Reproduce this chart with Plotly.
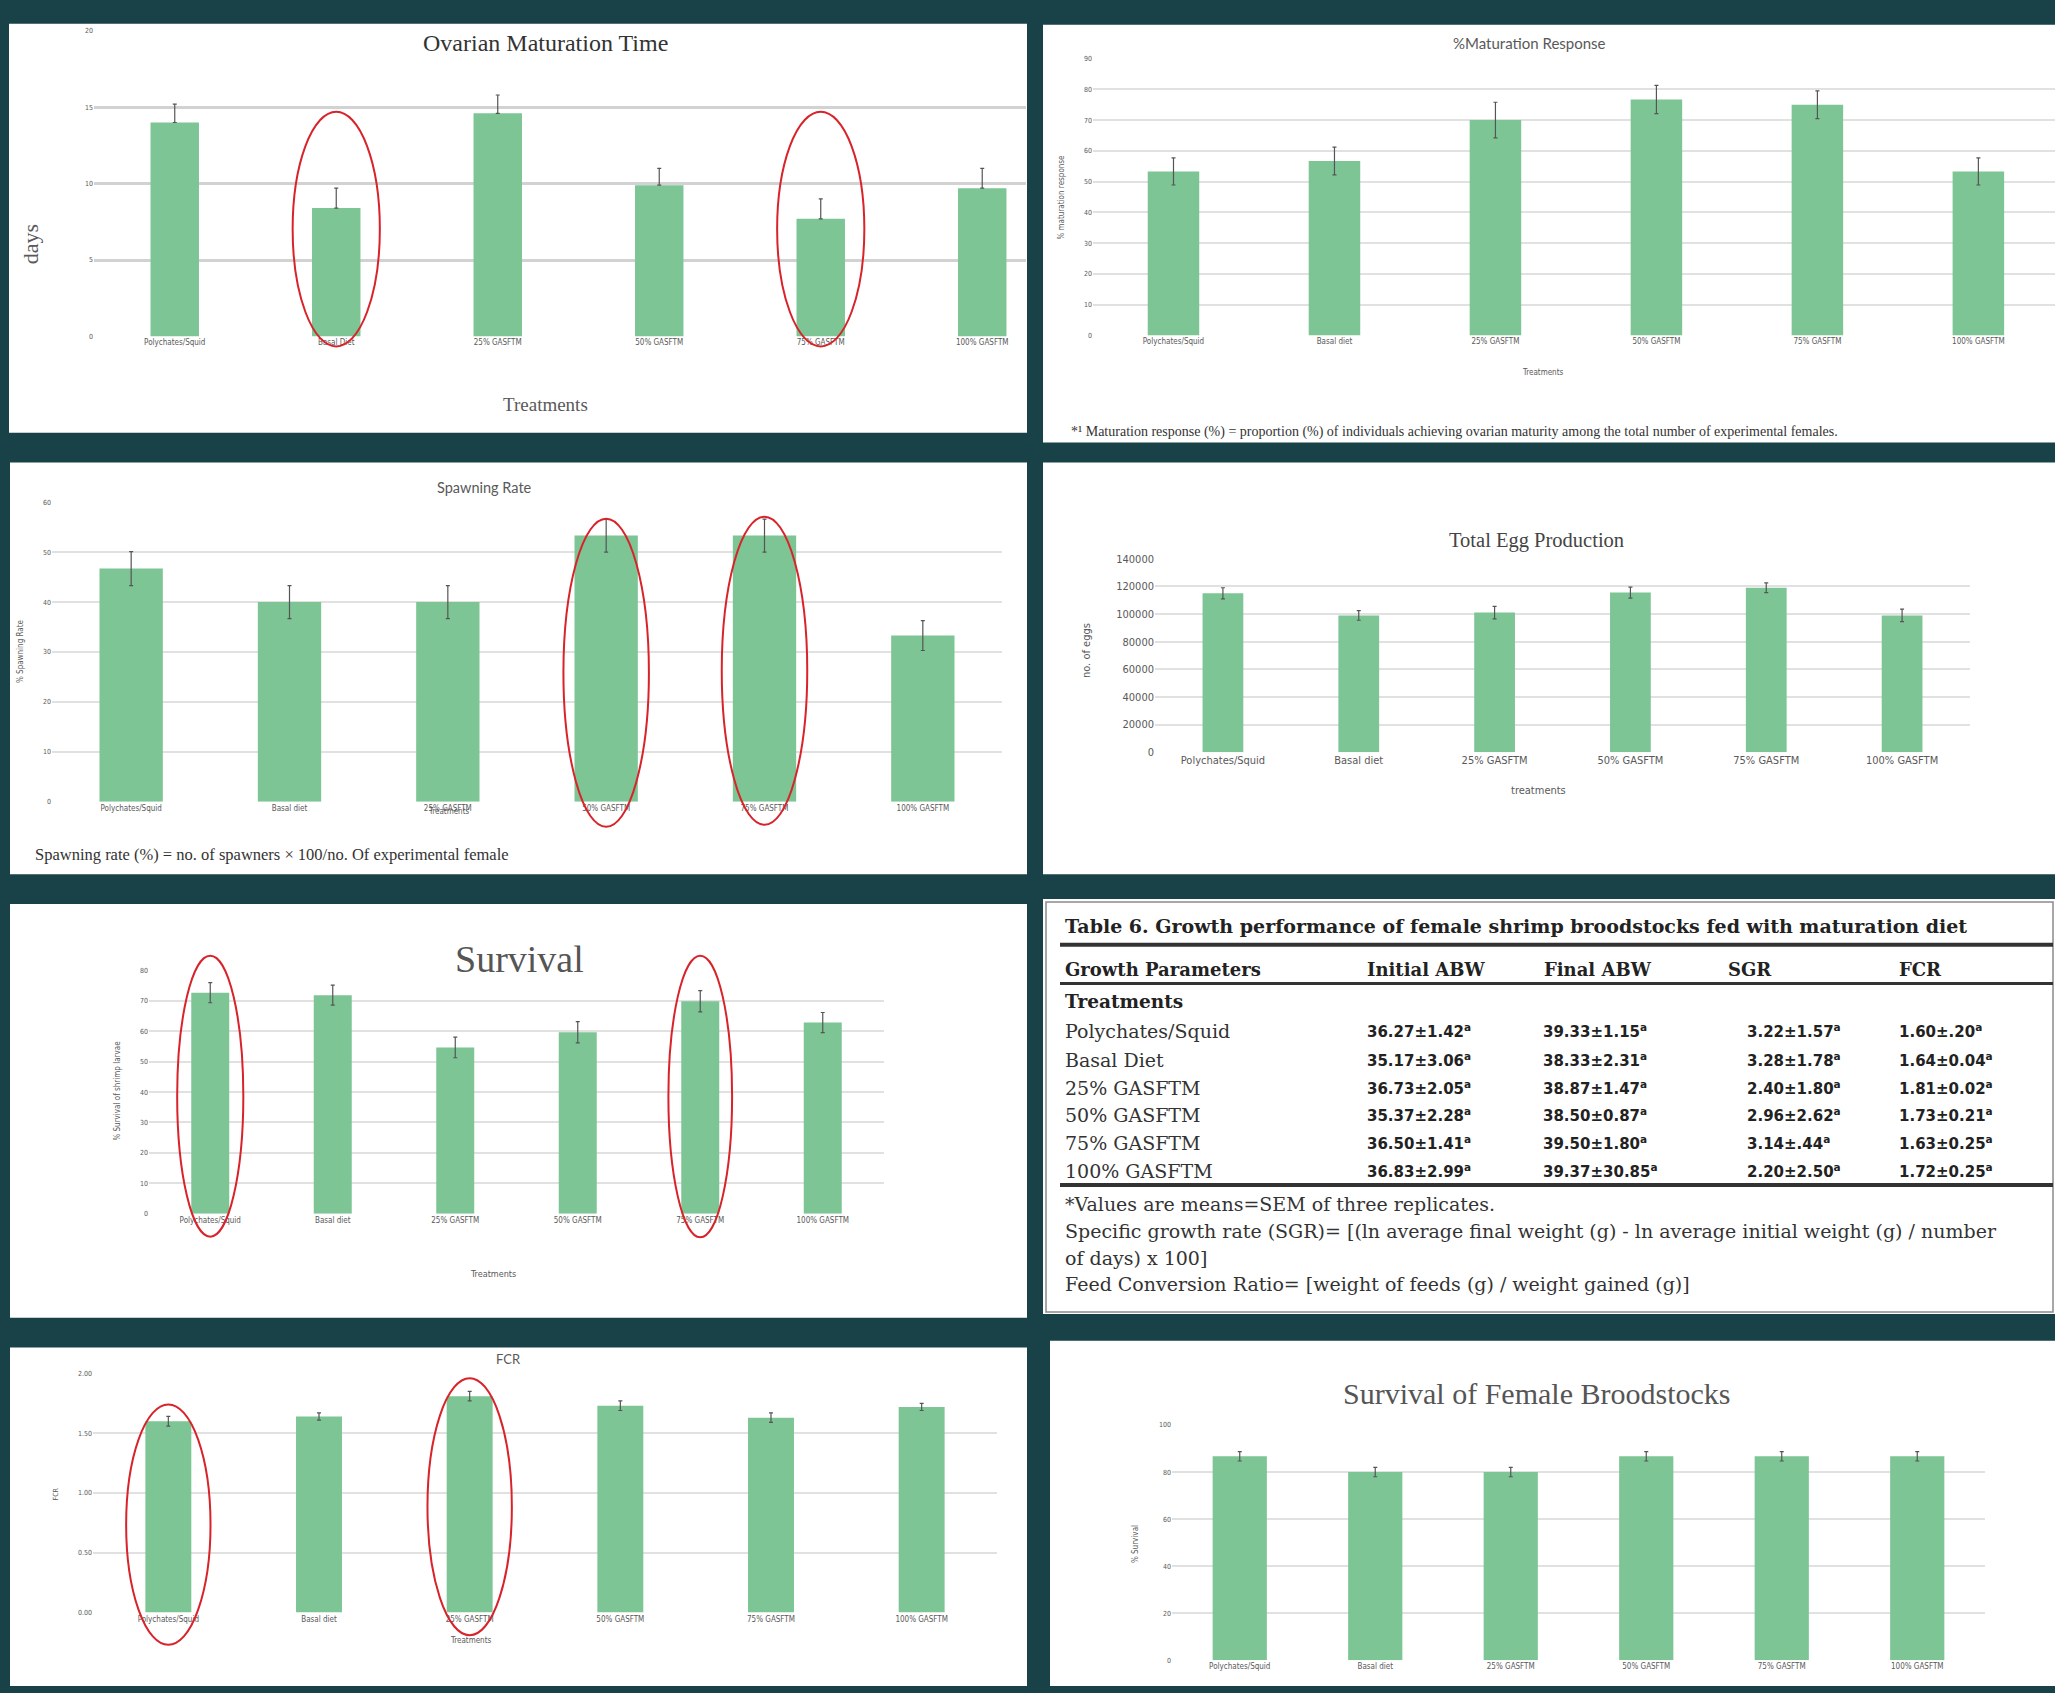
import plotly.graph_objects as go

W, H = 2055, 1693

# ---------------- data ----------------
TREATMENTS = ["Polychates/Squid", "Basal Diet", "25% GASFTM", "50% GASFTM", "75% GASFTM", "100% GASFTM"]
TREATMENTS_LC = ["Polychates/Squid", "Basal diet", "25% GASFTM", "50% GASFTM", "75% GASFTM", "100% GASFTM"]

OVARIAN_DAYS = [14.0, 8.4, 14.6, 9.9, 7.7, 9.7]
OVARIAN_ERR = [1.2, 1.3, 1.2, 1.1, 1.3, 1.3]
OVARIAN_ERR_MINUS = [0, 0, 0, 0, 0, 0]

MATURATION_PCT = [53.3, 56.7, 70.0, 76.7, 75.0, 53.3]
MATURATION_ERR = [4.4, 4.5, 5.8, 4.6, 4.5, 4.4]

SPAWNING_PCT = [46.7, 40.0, 40.0, 53.3, 53.3, 33.3]
SPAWNING_ERR = [3.4, 3.3, 3.3, 3.3, 3.3, 3.0]

EGGS = [115000, 99000, 101000, 115500, 119000, 99000]
EGGS_ERR = [4000, 3500, 4500, 4000, 3500, 4500]

LARVAE_SURV = [72.7, 71.9, 54.7, 59.7, 69.9, 62.9]
LARVAE_ERR = [3.3, 3.3, 3.4, 3.5, 3.5, 3.3]

FCR = [1.60, 1.64, 1.81, 1.73, 1.63, 1.72]
FCR_ERR = [0.04, 0.03, 0.04, 0.04, 0.04, 0.03]

BROOD_SURV = [86.7, 80.0, 80.0, 86.7, 86.7, 86.7]
BROOD_ERR = [2.0, 2.0, 2.0, 2.0, 2.0, 2.0]

TABLE_ROWS = ["Polychates/Squid", "Basal Diet", "25% GASFTM", "50% GASFTM", "75% GASFTM", "100% GASFTM"]
INITIAL_ABW = ["36.27±1.42", "35.17±3.06", "36.73±2.05", "35.37±2.28", "36.50±1.41", "36.83±2.99"]
FINAL_ABW = ["39.33±1.15", "38.33±2.31", "38.87±1.47", "38.50±0.87", "39.50±1.80", "39.37±30.85"]
SGR = ["3.22±1.57", "3.28±1.78", "2.40±1.80", "2.96±2.62", "3.14±.44", "2.20±2.50"]
FCR_TABLE = ["1.60±.20", "1.64±0.04", "1.81±0.02", "1.73±0.21", "1.63±0.25", "1.72±0.25"]
TABLE_HEADERS = ["Growth Parameters", "Initial ABW", "Final ABW", "SGR", "FCR"]

# ---------------- style ----------------
BG = "#184247"
GREEN = "#7dc595"
ERRC = "#555555"
RED = "#d8232a"
SERIF = "Liberation Serif, Times New Roman, serif"
WSERIF = "DejaVu Serif, serif"
SANS = "Lato, Open Sans, sans-serif"
NARROW = "Liberation Sans Narrow, DejaVu Sans Condensed, Arial Narrow, sans-serif"
GRAYTXT = "#595959"

panels = [
    dict(cats=TREATMENTS, y=OVARIAN_DAYS, e=OVARIAN_ERR, em=OVARIAN_ERR_MINUS,
         box=(94, 1026, 25, 333), xr=(-0.5, 5.271), yr=(0, 20), dtick=5, bw=0.30,
         grid=("#d2d2d2", 2.5), tick=8, fmt=None),
    dict(cats=TREATMENTS_LC, y=MATURATION_PCT, e=MATURATION_ERR, em=None,
         box=(1093, 2055, 53, 332), xr=(-0.5, 5.476), yr=(0, 90), dtick=10, bw=0.32,
         grid=("#e1e1e1", 1.5), tick=8, fmt=None),
    dict(cats=TREATMENTS_LC, y=SPAWNING_PCT, e=SPAWNING_ERR, em=None,
         box=(52, 1002, 500, 802), xr=(-0.5, 5.5), yr=(0, 60), dtick=10, bw=0.40,
         grid=("#e1e1e1", 1.5), tick=8, fmt=None),
    dict(cats=TREATMENTS_LC, y=EGGS, e=EGGS_ERR, em=None,
         box=(1155, 1970, 557, 752), xr=(-0.5, 5.5), yr=(0, 140000), dtick=20000, bw=0.30,
         grid=("#e1e1e1", 1.5), tick=11, fmt="d"),
    dict(cats=TREATMENTS_LC, y=LARVAE_SURV, e=LARVAE_ERR, em=None,
         box=(149, 884, 972, 1217), xr=(-0.5, 5.5), yr=(0, 80), dtick=10, bw=0.31,
         grid=("#e1e1e1", 1.5), tick=8, fmt=None),
    dict(cats=TREATMENTS_LC, y=FCR, e=FCR_ERR, em=None,
         box=(93, 997, 1378, 1619), xr=(-0.5, 5.5), yr=(0, 2), dtick=0.5, bw=0.305,
         grid=("#e1e1e1", 1.5), tick=8, fmt=".2f"),
    dict(cats=TREATMENTS_LC, y=BROOD_SURV, e=BROOD_ERR, em=None,
         box=(1172, 1985, 1430, 1667), xr=(-0.5, 5.5), yr=(0, 100), dtick=20, bw=0.40,
         grid=("#e1e1e1", 1.5), tick=8, fmt=None),
]


def px(x):
    return x / W


def py(y):
    return 1 - y / H


fig = go.Figure()
layout = dict(width=W, height=H, margin=dict(l=0, r=0, t=0, b=0),
              paper_bgcolor=BG, plot_bgcolor="rgba(0,0,0,0)", showlegend=False,
              bargap=0.2)

for i, p in enumerate(panels):
    k = "" if i == 0 else str(i + 1)
    x0, x1, y0, y1 = p["box"]
    err = dict(type="data", array=p["e"], color=ERRC, thickness=1.2, width=2)
    if p["em"] is not None:
        err.update(symmetric=False, arrayminus=p["em"])
    fig.add_trace(go.Bar(x=p["cats"], y=p["y"], width=p["bw"], marker_color=GREEN,
                         marker_line_width=0, error_y=err,
                         xaxis="x" + k, yaxis="y" + k, hoverinfo="x+y"))
    layout["xaxis" + k] = dict(domain=[px(x0), px(x1)], range=list(p["xr"]),
                               anchor="y" + k, showgrid=False, zeroline=False, showline=False,
                               ticks="", tickfont=dict(size=p["tick"], family=NARROW, color=GRAYTXT),
                               tickangle=0, fixedrange=True)
    ya = dict(domain=[py(y1), py(y0)], range=list(p["yr"]), anchor="x" + k,
              dtick=p["dtick"], showgrid=True, gridcolor=p["grid"][0], gridwidth=p["grid"][1],
              zeroline=False, showline=False, ticks="",
              tickfont=dict(size=p["tick"] if p["tick"] > 8 else 7, family=NARROW, color=GRAYTXT),
              fixedrange=True)
    if p["fmt"]:
        ya["tickformat"] = p["fmt"]
    layout["yaxis" + k] = ya

shapes = []
# white panels
for (a, b, c, d) in [(9, 1027, 18, 430), (1043, 2055, 19, 440), (10, 1027, 460, 875),
                     (1043, 2055, 460, 875), (10, 1027, 905, 1322), (1043, 2055, 900, 1318),
                     (10, 1027, 1352, 1693), (1050, 2055, 1345, 1693)]:
    shapes.append(dict(type="rect", xref="paper", yref="paper", x0=px(a), x1=px(b),
                       y0=py(d), y1=py(c), fillcolor="white", line=dict(width=0), layer="below"))
# table frame
shapes.append(dict(type="rect", xref="paper", yref="paper", x0=px(1046), x1=px(2053),
                   y0=py(1316), y1=py(903), fillcolor="rgba(0,0,0,0)",
                   line=dict(color="#8a8a8a", width=1.5), layer="below"))
# table rules
for (yy, wdt) in [(946, 4), (985, 3), (1188, 4)]:
    shapes.append(dict(type="line", xref="paper", yref="paper", x0=px(1060), x1=px(2053),
                       y0=py(yy), y1=py(yy), line=dict(color="#333333", width=wdt), layer="above"))


def ellipse(pi, idx, half, vtop, vbot):
    p = panels[pi]
    x0, x1, y0, y1 = p["box"]
    xr, yr = p["xr"], p["yr"]

    def xp(v):
        return x0 + (v - xr[0]) / (xr[1] - xr[0]) * (x1 - x0)

    def yp(v):
        return y1 - (v - yr[0]) / (yr[1] - yr[0]) * (y1 - y0)

    return dict(type="circle", xref="paper", yref="paper",
                x0=px(xp(idx - half)), x1=px(xp(idx + half)),
                y0=py(yp(vbot)), y1=py(yp(vtop)),
                line=dict(color=RED, width=2), layer="above")


shapes += [
    ellipse(0, 1, 0.27, 14.7, -0.65),
    ellipse(0, 4, 0.27, 14.7, -0.65),
    ellipse(2, 3, 0.27, 56.7, -5.0),
    ellipse(2, 4, 0.27, 57.1, -4.6),
    ellipse(4, 0, 0.27, 84.9, -7.6),
    ellipse(4, 4, 0.26, 84.9, -7.8),
    ellipse(5, 0, 0.28, 1.74, -0.27),
    ellipse(5, 2, 0.28, 1.96, -0.19),
]

ann = []


def txt(x, y, text, size, family=SERIF, color=GRAYTXT, xanchor="center", angle=0):
    ann.append(dict(x=px(x), y=py(y), xref="paper", yref="paper", text=text, showarrow=False,
                    xanchor=xanchor, yanchor="middle", textangle=angle,
                    font=dict(size=size, family=family, color=color)))


# panel 1
txt(545, 37, "Ovarian Maturation Time", 24, color="#333333")
txt(30, 240, "days", 22, angle=-90)
txt(545, 402, "Treatments", 19)
# panel 2
txt(1529, 37, "%Maturation Response", 15, family=SANS)
txt(1062, 193, "% maturation response", 8, family=NARROW, angle=-90)
txt(1542, 369, "Treatments", 8, family=NARROW)
txt(1069, 429, "*¹ Maturation response (%) = proportion (%) of individuals achieving ovarian maturity among the total number of experimental females.",
    14, color="#333333", xanchor="left")
# panel 3
txt(484, 485, "Spawning Rate", 14.5, family=SANS)
txt(20, 650, "% Spawning Rate", 8, family=NARROW, angle=-90)
txt(448, 812, "Treatments", 8, family=NARROW)
txt(33, 855, "Spawning rate (%) = no. of spawners × 100/no. Of experimental female", 16.5,
    color="#333333", xanchor="left")
# panel 4
txt(1536, 539, "Total Egg Production", 20.5, color="#444444")
txt(1086, 650, "no. of eggs", 11, family=NARROW, angle=-90)
txt(1538, 791, "treatments", 11, family=NARROW)
# panel 5
txt(519, 960, "Survival", 38, color="#555555")
txt(118, 1093, "% Survival of shrimp larvae", 8, family=NARROW, angle=-90)
txt(493, 1278, "Treatments", 9, family=NARROW)
# panel 7
txt(508, 1363, "FCR", 13, family=SANS)
txt(56, 1500, "FCR", 7, family=NARROW, angle=-90)
txt(470, 1647, "Treatments", 8, family=NARROW)
# panel 8
txt(1536, 1398, "Survival of Female Broodstocks", 30, color="#555555")
txt(1135, 1550, "% Survival", 8, family=NARROW, angle=-90)

# table
TBL = "#222222"
txt(1063, 927, "<b>Table 6. Growth performance of female shrimp broodstocks fed with maturation diet</b>",
    19, family=WSERIF, color=TBL, xanchor="left")
col_x = [1063, 1365, 1542, 1726, 1897]
for cx, h in zip(col_x, TABLE_HEADERS):
    txt(cx, 971, "<b>" + h + "</b>", 18, family=WSERIF, color=TBL, xanchor="left")
txt(1063, 1003, "<b>Treatments</b>", 18.5, family=WSERIF, color=TBL, xanchor="left")
row_y = [1033, 1062, 1090, 1118, 1146, 1174]
val_x = [1365, 1541, 1745, 1897]
for r, yy in enumerate(row_y):
    txt(1063, yy, TABLE_ROWS[r], 19, family=WSERIF, color="#333333", xanchor="left")
    for cx, col in zip(val_x, [INITIAL_ABW, FINAL_ABW, SGR, FCR_TABLE]):
        txt(cx, yy, "<b>" + col[r] + "<sup>a</sup></b>", 15, family="DejaVu Sans",
            color=TBL, xanchor="left")
NOTE = 19
txt(1063, 1207, "*Values are means=SEM of three replicates.", NOTE, family=WSERIF, color="#333333", xanchor="left")
txt(1063, 1234, "Specific growth rate (SGR)= [(ln average final weight (g) - ln average initial weight (g) / number",
    NOTE, family=WSERIF, color="#333333", xanchor="left")
txt(1063, 1262, "of days) x 100]", NOTE, family=WSERIF, color="#333333", xanchor="left")
txt(1063, 1288, "Feed Conversion Ratio= [weight of feeds (g) / weight gained (g)]", NOTE,
    family=WSERIF, color="#333333", xanchor="left")

layout["shapes"] = shapes
layout["annotations"] = ann
fig.update_layout(**layout)
fig.write_html("out.html")
